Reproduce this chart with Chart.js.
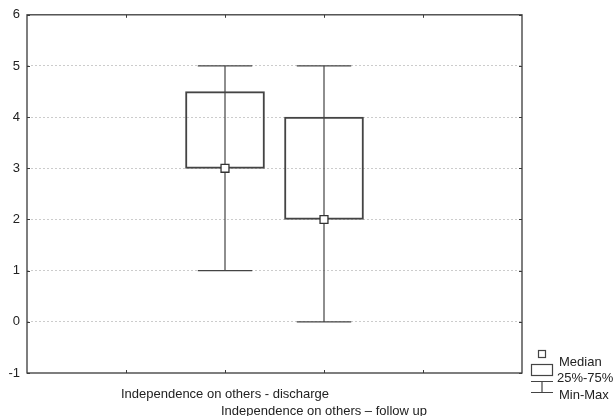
<!DOCTYPE html>
<html><head><meta charset="utf-8">
<script src="https://cdn.jsdelivr.net/npm/chart.js@4.4.1/dist/chart.umd.min.js"></script>
<style>html,body{margin:0;padding:0;background:#fff}#wrap{width:616px;height:416px}</style>
</head><body><div id="wrap"><canvas id="c" width="616" height="416"></canvas></div>
<script>
const categories = ['Independence on others - discharge', 'Independence on others \u2013 follow up'];
const positions = [2, 3];
const minVals = [1, 0];
const q1Vals = [3, 2];
const medianVals = [3, 2];
const q3Vals = [4.5, 4];
const maxVals = [5, 5];
const yTicks = [-1, 0, 1, 2, 3, 4, 5, 6];
const legendLabels = ['Median', '25%-75%', 'Min-Max'];

const AXIS = '#3a3a3a';
const FONT = '"Liberation Sans", Arial, sans-serif';

const framePlugin = {
  id: 'frame',
  beforeDatasetsDraw(chart) {
    const {ctx, scales: {x, y}} = chart;
    ctx.save();
    ctx.strokeStyle = '#444';
    ctx.lineWidth = 1.2;
    positions.forEach((p, i) => {
      const px = x.getPixelForValue(p);
      const cw = (x.getPixelForValue(p + 0.275) - x.getPixelForValue(p - 0.275));
      const yMin = y.getPixelForValue(minVals[i]);
      const yMax = y.getPixelForValue(maxVals[i]);
      ctx.beginPath();
      ctx.moveTo(px, yMin); ctx.lineTo(px, yMax);
      ctx.moveTo(px - cw / 2, yMin); ctx.lineTo(px + cw / 2, yMin);
      ctx.moveTo(px - cw / 2, yMax); ctx.lineTo(px + cw / 2, yMax);
      ctx.stroke();
    });
    ctx.restore();
  },
  afterDraw(chart) {
    const {ctx, chartArea: a, scales: {x, y}} = chart;
    ctx.save();
    ctx.strokeStyle = AXIS;
    ctx.lineWidth = 1.3;
    ctx.strokeRect(a.left, a.top, a.right - a.left, a.bottom - a.top);
    ctx.lineWidth = 1;
    ctx.beginPath();
    [1, 2, 3, 4].forEach(v => {
      const px = Math.round(x.getPixelForValue(v)) + 0.5;
      ctx.moveTo(px, a.bottom); ctx.lineTo(px, a.bottom - 3);
      ctx.moveTo(px, a.top); ctx.lineTo(px, a.top + 3);
    });
    yTicks.forEach(v => {
      const py = Math.round(y.getPixelForValue(v)) + 0.5;
      ctx.moveTo(a.left, py); ctx.lineTo(a.left + 3, py);
      ctx.moveTo(a.right, py); ctx.lineTo(a.right - 3, py);
    });
    ctx.stroke();

    // legend
    ctx.strokeStyle = '#444';
    ctx.lineWidth = 1.2;
    ctx.fillStyle = '#fff';
    ctx.fillRect(538.5, 350.5, 7, 7);
    ctx.strokeRect(538.5, 350.5, 7, 7);
    ctx.strokeRect(531.5, 364.5, 21, 11);
    ctx.beginPath();
    ctx.moveTo(531, 381.5); ctx.lineTo(553, 381.5);
    ctx.moveTo(542, 381.5); ctx.lineTo(542, 392.5);
    ctx.moveTo(531, 392.5); ctx.lineTo(553, 392.5);
    ctx.stroke();
    ctx.fillStyle = '#222';
    ctx.font = '13px ' + FONT;
    ctx.textAlign = 'left';
    ctx.textBaseline = 'middle';
    ctx.fillText(legendLabels[0], 559, 362);
    ctx.fillText(legendLabels[1], 557, 378);
    ctx.fillText(legendLabels[2], 559, 395);
    ctx.restore();
  }
};

new Chart(document.getElementById('c'), {
  type: 'bar',
  data: {
    datasets: [
      {
        type: 'bar',
        label: '25%-75%',
        data: positions.map((p, i) => ({x: p, y: [q1Vals[i], q3Vals[i]]})),
        backgroundColor: 'rgba(0,0,0,0)',
        borderColor: '#444',
        borderWidth: 1.3,
        borderSkipped: false,
        barThickness: 79,
        order: 2
      },
      {
        type: 'scatter',
        label: 'Median',
        data: positions.map((p, i) => ({x: p, y: medianVals[i]})),
        pointStyle: 'rect',
        pointRadius: 5.6,
        backgroundColor: '#fff',
        borderColor: '#333',
        borderWidth: 1.3,
        order: 1
      }
    ]
  },
  options: {
    responsive: false,
    animation: false,
    devicePixelRatio: 1,
    layout: {padding: {left: 0, top: 13, right: 94, bottom: 0}},
    plugins: {legend: {display: false}, tooltip: {enabled: false}},
    scales: {
      x: {
        type: 'linear',
        offset: false,
        min: 0, max: 5,
        afterFit(s) { s.height = 43; },
        afterBuildTicks(s) { s.ticks = [{value: 2}, {value: 3}]; },
        grid: {display: false, drawTicks: false, offset: false},
        border: {display: false},
        ticks: {
          autoSkip: false,
          maxRotation: 0,
          padding: 13,
          color: '#222',
          font: {family: FONT, size: 13, lineHeight: 1.3},
          callback(v) {
            const i = positions.indexOf(v);
            if (i === 0) return [categories[0], ''];
            if (i === 1) return ['', categories[1]];
            return '';
          }
        }
      },
      y: {
        min: -1, max: 6,
        afterFit(s) { s.width = 27; },
        afterBuildTicks(s) { s.ticks = yTicks.map(v => ({value: v})); },
        grid: {
          drawTicks: false,
          color: ctx => (ctx.tick && (ctx.tick.value === -1 || ctx.tick.value === 6)) ? 'rgba(0,0,0,0)' : '#cccccc',
          lineWidth: 1
        },
        border: {display: false, dash: [2, 2]},
        ticks: {
          padding: 7,
          color: '#222',
          font: {family: FONT, size: 13}
        }
      }
    }
  },
  plugins: [framePlugin]
});
</script>
</body></html>
